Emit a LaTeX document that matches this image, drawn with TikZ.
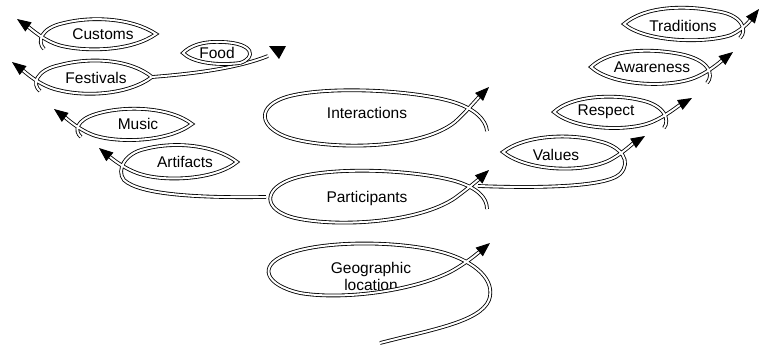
\documentclass[tikz,border=0pt]{standalone}
\usepackage{fontspec}
\setmainfont{Liberation Sans}
\usetikzlibrary{arrows.meta}

\tikzset{
  dbl/.style={double, double distance=2pt, line width=0.85pt},
  dblarr/.style={dbl, -{Triangle[length=14pt,width=11pt]}},
  txt/.style={font=\fontsize{15.5}{17}\selectfont, inner sep=1pt}
}

\begin{document}
\begin{tikzpicture}[x=1pt,y=-1pt]
    \useasboundingbox (0,0) rectangle (760,349);

    % left side
    \node[txt] (cust) at (103,34) {Customs};
    \node[txt] (fest) at (96,78) {Festivals};
    \node[txt] (food) at (217,53) {Food};
    \node[txt] (music) at (138,124) {Music};
    \node[txt] (art) at (185,162) {Artifacts};

    \draw[dblarr] (44,49) .. controls (37,42) and (40,28) .. (64,23) .. controls (92,16) and (132,18) .. (156,34)
        .. controls (132,51) and (88,52) .. (62,46) .. controls (45,42) and (30,28) .. (17,19);
    \draw[dblarr] (40,91) .. controls (32,85) and (35,70) .. (60,65) .. controls (90,57) and (130,59) .. (152,77)
        .. controls (128,95) and (85,97) .. (58,90) .. controls (40,86) and (25,72) .. (12,62);
    \coordinate (festtip) at (152,77);
    \coordinate (foodend) at (268,56);
    \draw[dbl] (festtip) .. controls (190,74) and (235,69) .. (foodend);
    \draw[dbl] (240,63) .. controls (256,58) and (255,43) .. (222,42) .. controls (202,41) and (190,46) .. (183,53)
        .. controls (192,62) and (215,66) .. (240,63);
    \fill (269,46) -- (286,46) -- (279,59) -- cycle;
    \draw[dblarr] (81,137) .. controls (74,131) and (76,120) .. (96,114) .. controls (125,105) and (170,107) .. (192,124)
        .. controls (168,142) and (120,143) .. (96,136) .. controls (80,131) and (66,118) .. (54,109);

    % centre
    \node[txt] (inter) at (367,113) {Interactions};
    \node[txt] (part) at (367,198) {Participants};
    \node[txt, align=center] (geo) at (371,276) {Geographic\\location};

    \coordinate (partleft) at (266,197);
    \draw[dblarr] (partleft) .. controls (200,198) and (140,195) .. (124,180) .. controls (116,170) and (125,153) .. (145,149)
        .. controls (175,141) and (215,145) .. (237,162) .. controls (215,180) and (165,182) .. (140,174)
        .. controls (124,169) and (110,157) .. (99,148);
    \draw[dblarr] (487,131) .. controls (486,120) and (475,108) .. (450,101) .. controls (410,90) and (330,86) .. (290,96)
        .. controls (255,105) and (258,128) .. (290,138) .. controls (330,150) and (420,150) .. (455,122)
        .. controls (465,113) and (478,98) .. (489,87);
    \draw[dblarr] (487,209) .. controls (487,198) and (478,188) .. (455,181) .. controls (415,170) and (335,166) .. (295,178)
        .. controls (262,188) and (262,210) .. (295,218) .. controls (340,228) and (420,222) .. (455,198)
        .. controls (466,190) and (478,180) .. (489,170);
    \draw[dblarr] (380,343) .. controls (430,330) and (480,322) .. (489,300) .. controls (496,280) and (475,262) .. (445,253)
        .. controls (400,240) and (320,240) .. (285,255) .. controls (258,266) and (265,285) .. (300,293)
        .. controls (340,300) and (410,292) .. (450,272) .. controls (465,264) and (478,253) .. (490,243);

    % right side
    \node[txt] (val) at (556,155) {Values};
    \node[txt] (resp) at (606,112) {Respect};
    \node[txt] (aware) at (652,67) {Awareness};
    \node[txt] (trad) at (683,26) {Traditions};

    \coordinate (partright) at (478,186);
    \draw[dblarr] (partright) .. controls (530,188) and (605,188) .. (620,174) .. controls (632,162) and (622,146) .. (598,141)
        .. controls (570,133) and (525,135) .. (503,152) .. controls (525,170) and (578,174) .. (608,161)
        .. controls (622,154) and (632,144) .. (645,136);
    \draw[dblarr] (664,128) .. controls (670,120) and (665,105) .. (640,100) .. controls (615,94) and (572,95) .. (554,112)
        .. controls (575,130) and (628,132) .. (652,122) .. controls (666,116) and (678,106) .. (692,98);
    \draw[dblarr] (707,83) .. controls (714,75) and (710,60) .. (680,54) .. controls (650,48) and (610,49) .. (591,67)
        .. controls (612,86) and (668,88) .. (694,78) .. controls (709,72) and (720,62) .. (733,52);
    \draw[dblarr] (740,38) .. controls (748,30) and (742,14) .. (715,11) .. controls (685,5) and (645,6) .. (624,24)
        .. controls (645,42) and (705,44) .. (731,35) .. controls (744,29) and (752,18) .. (759,9);
\end{tikzpicture}
\end{document}
